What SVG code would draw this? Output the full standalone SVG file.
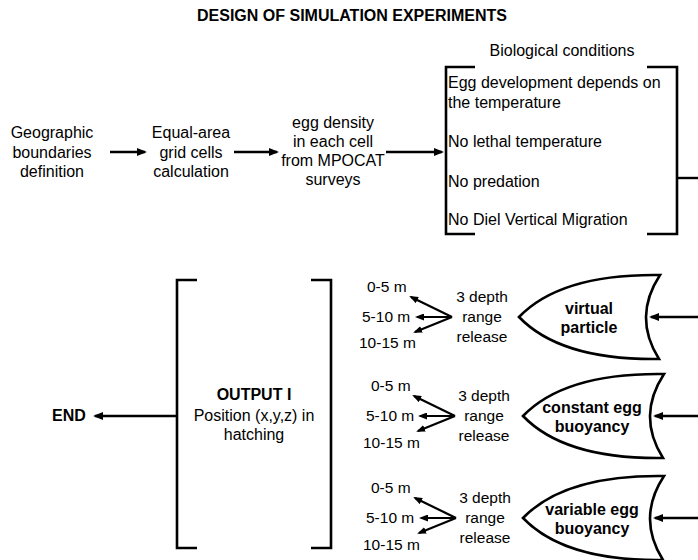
<svg xmlns="http://www.w3.org/2000/svg" width="698" height="560" viewBox="0 0 698 560">
<style>
text{font-family:"Liberation Sans",Arial,Helvetica,sans-serif;fill:#000}
.t{font-size:16px}
.tm{font-size:16px;text-anchor:middle}
.b{font-size:16px;font-weight:bold;text-anchor:middle}
.d{font-size:15.5px}
.dm{font-size:15.5px;text-anchor:middle}
.br{fill:none;stroke:#000;stroke-width:2.6}
.sh{fill:#fff;stroke:#000;stroke-width:2.6;stroke-linejoin:miter}
.ar{fill:none;stroke:#000;stroke-width:2.6;marker-end:url(#ah)}
.ad{fill:none;stroke:#000;stroke-width:2.2;marker-end:url(#ahs)}
.ln{fill:none;stroke:#000;stroke-width:2.4}
</style>
<defs>
<marker id="ah" viewBox="0 0 10 8" refX="8" refY="4" markerWidth="10" markerHeight="8" markerUnits="userSpaceOnUse" orient="auto">
<path d="M0,0 L10,4 L0,8 Z" fill="#000"/>
</marker>
<marker id="ahs" viewBox="0 0 9 7" refX="7" refY="3.5" markerWidth="9" markerHeight="7" markerUnits="userSpaceOnUse" orient="auto">
<path d="M0,0 L9,3.5 L0,7 Z" fill="#000"/>
</marker>
<path id="shape" d="M141,-42 C71,-43 26,-27 0,0 C26,27 71,43 140,42 Q113.5,0 141,-42 Z"/>
</defs>

<text x="352" y="21" class="b" id="title">DESIGN OF SIMULATION EXPERIMENTS</text>

<g id="geographic">
<text x="52" y="138" class="tm">Geographic</text>
<text x="52" y="158" class="tm">boundaries</text>
<text x="52" y="177" class="tm">definition</text>
</g>
<g id="grid">
<text x="191" y="138" class="tm">Equal-area</text>
<text x="191" y="158" class="tm">grid cells</text>
<text x="191" y="177" class="tm">calculation</text>
</g>
<g id="density">
<text x="333" y="128" class="tm">egg density</text>
<text x="333" y="147" class="tm">in each cell</text>
<text x="333" y="166" class="tm">from MPOCAT</text>
<text x="333" y="185" class="tm">surveys</text>
</g>
<g id="biological">
<text x="562" y="56" class="tm">Biological conditions</text>
<path class="br" d="M475,67 H446 V234 H475"/>
<path class="br" d="M647,67 H677 V234 H647"/>
<text x="448" y="88" class="t">Egg development depends on</text>
<text x="448" y="108" class="t">the temperature</text>
<text x="448" y="147" class="t">No lethal temperature</text>
<text x="448" y="187" class="t">No predation</text>
<text x="448" y="225" class="t">No Diel Vertical Migration</text>
</g>

<g id="virtual">
<use href="#shape" class="sh" transform="translate(519,317)"/>
<text x="589" y="314" class="b">virtual</text>
<text x="589" y="333" class="b">particle</text>
</g>
<g id="constant">
<use href="#shape" class="sh" transform="translate(523,416)"/>
<text x="592" y="413" class="b">constant egg</text>
<text x="592" y="432" class="b">buoyancy</text>
</g>
<g id="variable">
<use href="#shape" class="sh" transform="translate(523,518)"/>
<text x="592" y="515" class="b">variable egg</text>
<text x="592" y="534" class="b">buoyancy</text>
</g>

<g id="release1">
<text x="367" y="292" class="d">0-5 m</text>
<text x="362" y="322" class="d">5-10 m</text>
<text x="359" y="348" class="d">10-15 m</text>
<text x="482" y="302" class="dm">3 depth</text>
<text x="482" y="322" class="dm">range</text>
<text x="482" y="342" class="dm">release</text>
</g>
<g id="release2">
<text x="371" y="391" class="d">0-5 m</text>
<text x="366" y="421" class="d">5-10 m</text>
<text x="363" y="448" class="d">10-15 m</text>
<text x="484" y="401" class="dm">3 depth</text>
<text x="484" y="421" class="dm">range</text>
<text x="484" y="441" class="dm">release</text>
</g>
<g id="release3">
<text x="371" y="493" class="d">0-5 m</text>
<text x="366" y="523" class="d">5-10 m</text>
<text x="363" y="550" class="d">10-15 m</text>
<text x="485" y="503" class="dm">3 depth</text>
<text x="485" y="523" class="dm">range</text>
<text x="485" y="543" class="dm">release</text>
</g>

<g id="output">
<path class="br" d="M197,280 H177 V548 H197"/>
<path class="br" d="M311,280 H331 V548 H311"/>
<text x="254" y="400" class="b">OUTPUT I</text>
<text x="254" y="421" class="tm">Position (x,y,z) in</text>
<text x="254" y="440" class="tm">hatching</text>
</g>
<g id="end">
<text x="52" y="421" style="font-size:16px;font-weight:bold">END</text>
</g>

<g id="connectors">
<line class="ar" x1="110" y1="152" x2="145" y2="152"/>
<line class="ar" x1="234" y1="152" x2="277" y2="152"/>
<line class="ar" x1="386" y1="152" x2="442" y2="152"/>
<line class="ln" x1="677" y1="178" x2="698" y2="178"/>
<line class="ar" x1="698" y1="317" x2="651" y2="317"/>
<line class="ar" x1="698" y1="416" x2="655" y2="416"/>
<line class="ar" x1="698" y1="518" x2="655" y2="518"/>
<line class="ar" x1="177" y1="416" x2="95" y2="416"/>
<line class="ad" x1="452" y1="317" x2="411" y2="297"/>
<line class="ad" x1="452" y1="317" x2="417" y2="317"/>
<line class="ad" x1="452" y1="317" x2="415" y2="332"/>
<line class="ad" x1="455" y1="416" x2="414" y2="396"/>
<line class="ad" x1="455" y1="416" x2="420" y2="416"/>
<line class="ad" x1="455" y1="416" x2="418" y2="431"/>
<line class="ad" x1="456" y1="518" x2="415" y2="498"/>
<line class="ad" x1="456" y1="518" x2="421" y2="518"/>
<line class="ad" x1="456" y1="518" x2="419" y2="533"/>
</g>
</svg>
